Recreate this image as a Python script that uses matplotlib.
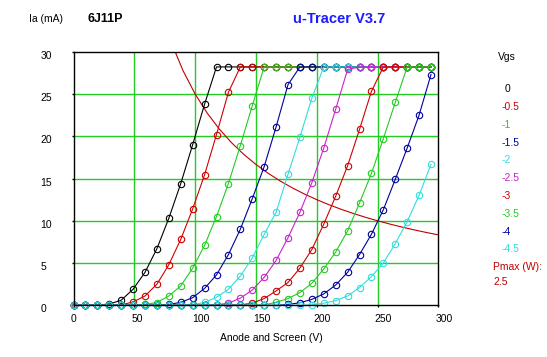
import matplotlib
matplotlib.use("Agg")
import matplotlib.pyplot as plt
from matplotlib.transforms import ScaledTranslation

plt.rcParams["font.family"] = ["Liberation Sans", "DejaVu Sans"]

# ---- data ----
anode_v = [0, 9.8, 19.6, 29.4, 39.2, 49, 58.8, 68.6, 78.4, 88.2, 98, 107.8, 117.6, 127.4,
           137.2, 147, 156.8, 166.6, 176.4, 186.2, 196, 205.8, 215.6, 225.4, 235.2, 245,
           254.8, 264.6, 274.4, 284.2, 294]

vgs_labels = ["0", "-0.5", "-1", "-1.5", "-2", "-2.5", "-3", "-3.5", "-4", "-4.5"]
vgs_colors = ["#000000", "#d00000", "#22cc22", "#0000a0", "#33dddd",
              "#cc22cc", "#d00000", "#22cc22", "#0000a0", "#33dddd"]

ia_0 = [0, 0, 0.02, 0.15, 0.6, 1.9, 3.9, 6.7, 10.3, 14.4, 19.0, 23.8] + [28.2] * 19
ia_m05 = [0, 0, 0, 0, 0.05, 0.4, 1.1, 2.5, 4.8, 7.8, 11.4, 15.45, 20.2, 25.2] + [28.2] * 17
ia_m1 = [0, 0, 0, 0, 0, 0, 0.1, 0.33, 1.1, 2.3, 4.4, 7.1, 10.5, 14.4, 18.9, 23.6] + [28.2] * 15
ia_m15 = [0, 0, 0, 0, 0, 0, 0, 0, 0.1, 0.35, 0.9, 2.0, 3.6, 6.0, 9.0, 12.6, 16.4, 21.1, 26.1] + [28.2] * 12
ia_m2 = [0, 0, 0, 0, 0, 0, 0, 0, 0, 0, 0.05, 0.35, 0.95, 1.9, 3.45, 5.6, 8.4, 11.0, 15.5, 19.9,
         24.5] + [28.2] * 10
ia_m25 = [0, 0, 0, 0, 0, 0, 0, 0, 0, 0, 0, 0, 0.05, 0.25, 0.85, 1.8, 3.3, 5.3, 8.0, 11.0, 14.5,
          18.6, 23.2, 27.9] + [28.2] * 7
ia_m3 = [0, 0, 0, 0, 0, 0, 0, 0, 0, 0, 0, 0, 0, 0, 0.05, 0.25, 0.8, 1.7, 2.7, 4.4, 6.6, 9.6,
         12.9, 16.5, 20.8, 25.3] + [28.2] * 5
ia_m35 = [0, 0, 0, 0, 0, 0, 0, 0, 0, 0, 0, 0, 0, 0, 0, 0, 0.05, 0.35, 0.8, 1.5, 2.6, 4.3, 6.3,
          8.8, 12.1, 15.6, 19.7, 24.0, 28.2, 28.2, 28.2]
ia_m4 = [0, 0, 0, 0, 0, 0, 0, 0, 0, 0, 0, 0, 0, 0, 0, 0, 0, 0, 0.1, 0.3, 0.7, 1.35, 2.4, 3.9,
         6.0, 8.4, 11.3, 14.9, 18.6, 22.5, 27.3]
ia_m45 = [0, 0, 0, 0, 0, 0, 0, 0, 0, 0, 0, 0, 0, 0, 0, 0, 0, 0, 0, 0, 0.05, 0.25, 0.55, 1.1,
          2.1, 3.4, 5.0, 7.3, 9.9, 13.0, 16.7]
curves = [ia_0, ia_m05, ia_m1, ia_m15, ia_m2, ia_m25, ia_m3, ia_m35, ia_m4, ia_m45]

pmax_w = 2.5
pmax_v = [70, 80, 90, 100, 110, 120, 130, 140, 150, 160, 170, 180, 190, 200, 210, 220, 230,
          240, 250, 260, 270, 280, 290, 300]
pmax_ia = [pmax_w * 1000.0 / v for v in pmax_v]

x_ticks = [0, 50, 100, 150, 200, 250, 300]
y_ticks = [0, 5, 10, 15, 20, 25, 30]

# ---- figure ----
W, H = 547, 357
fig = plt.figure(figsize=(W / 100, H / 100), dpi=100)
fig.patch.set_facecolor("white")
ax = fig.add_axes([73.5 / W, 1 - 305.3 / H, (438.3 - 73.5) / W, (305.3 - 51.7) / H])
ax.set_xlim(0, 300)
ax.set_ylim(0, 30)

grid_c = "#22cc22"
for x in x_ticks[1:-1]:
    ax.axvline(x, color=grid_c, lw=1.0, zorder=1)
for y in y_ticks[1:-1]:
    ax.axhline(y, color=grid_c, lw=1.0, zorder=1)

ax.plot(pmax_v, pmax_ia, color="#c00000", lw=0.8, zorder=2)

for ia, c in zip(curves, vgs_colors):
    ax.plot(anode_v, ia, color=c, lw=0.8, marker="o", ms=4.6, mfc="none", mec=c,
            mew=0.8, zorder=3, clip_on=False)

for s in ax.spines.values():
    s.set_color("black")
    s.set_linewidth(1.0)
    s.set_zorder(4)

fs = 7.5
ax.set_xticks(x_ticks)
ax.set_yticks(y_ticks)
ax.set_xticklabels([str(t) for t in x_ticks])
ax.set_yticklabels([str(t) for t in y_ticks])
ax.tick_params(direction="out", length=1.5, width=1, colors="black", labelsize=fs)
ax.tick_params(axis="y", pad=22.3)
ax.tick_params(axis="x", pad=4.5)
for lab in ax.get_yticklabels():
    lab.set_horizontalalignment("left")
    lab.set_transform(lab.get_transform() + ScaledTranslation(0, -3 / 100, fig.dpi_scale_trans))
for lab in ax.get_xticklabels():
    lab.set_horizontalalignment("left")
    lab.set_transform(lab.get_transform() + ScaledTranslation(-3 / 100, 0, fig.dpi_scale_trans))

fig.text(271.5 / W, 1 - 338 / H, "Anode and Screen (V)", ha="center", va="center", fontsize=fs)
fig.text(29 / W, 1 - 19 / H, "Ia (mA)", ha="left", va="center", fontsize=fs)
fig.text(87 / W, 1 - 19 / H, "6J11P", ha="left", va="center", fontsize=9, fontweight="bold")
fig.text(293 / W, 1 - 19 / H, "u-Tracer V3.7", ha="left", va="center", fontsize=10.5,
         fontweight="bold", color="#1c1cff")
fig.text(498 / W, 1 - 57 / H, "Vgs", ha="left", va="center", fontsize=fs)

y0 = 89.3
for i, (lab, c) in enumerate(zip(vgs_labels, vgs_colors)):
    xx = 505 if lab == "0" else 501.5
    fig.text(xx / W, 1 - (y0 + i * 17.8) / H, lab, ha="left", va="center", fontsize=fs, color=c)
fig.text(493 / W, 1 - 266.7 / H, "Pmax (W):", ha="left", va="center", fontsize=fs, color="#c00000")
fig.text(493 / W, 1 - 281.7 / H, str(pmax_w), ha="left", va="center", fontsize=fs, color="#c00000")

fig.savefig("out.png", dpi=100)
